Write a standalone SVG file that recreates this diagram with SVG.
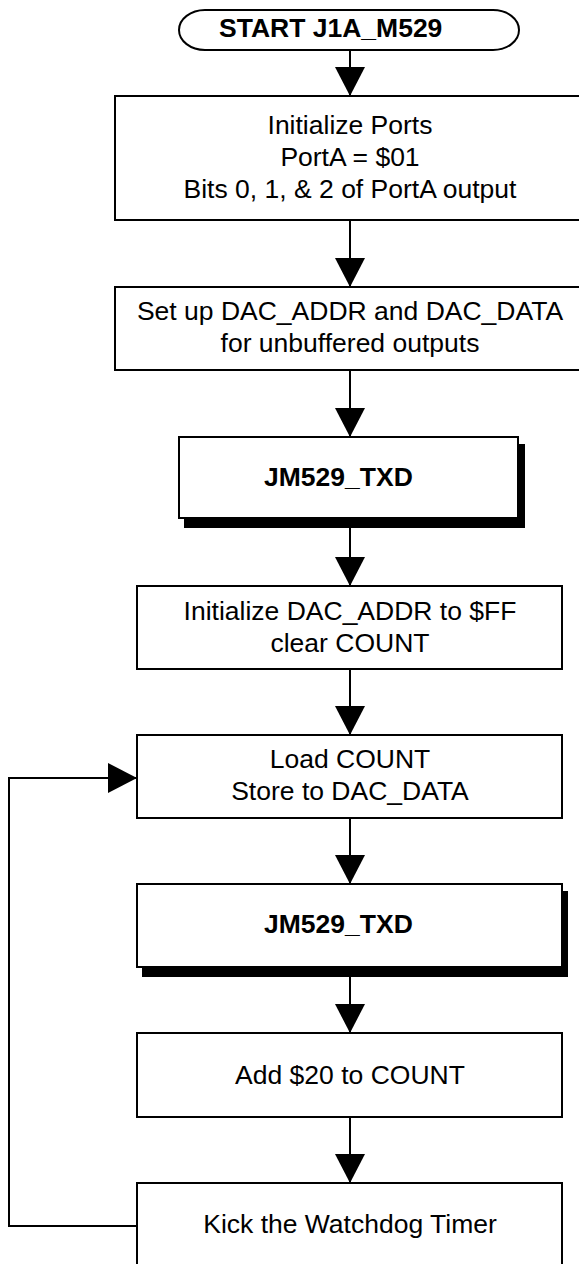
<svg xmlns="http://www.w3.org/2000/svg" width="579" height="1264" viewBox="0 0 579 1264">
  <style>
    .box { fill: #ffffff; stroke: #000000; stroke-width: 2; }
    .shadow { fill: #000000; stroke: none; }
    .txt { font-family: "Liberation Sans", Arial, sans-serif; font-size: 26.5px; fill: #000000; text-anchor: middle; }
    .bold { font-family: "Liberation Sans", Arial, sans-serif; font-size: 26.5px; font-weight: bold; fill: #000000; }
    .wire { fill: none; stroke: #000000; stroke-width: 2; marker-end: url(#head); }
  </style>
  <defs>
    <marker id="head" markerUnits="userSpaceOnUse" markerWidth="29" markerHeight="30" viewBox="0 0 29 30" refX="29" refY="15" orient="auto">
      <path d="M0,0 L29,15 L0,30 Z" fill="#000000"/>
    </marker>
  </defs>
  <rect width="579" height="1264" fill="#ffffff"/>

  <g id="start">
    <path class="box" d="M205,10 H493 A26,20 0 0 1 493,50 H205 A26,20 0 0 1 205,10 Z"/>
    <text class="bold" x="219" y="37">START J1A_M529</text>
  </g>

  <g id="init-ports">
    <rect class="box" x="115" y="96" width="520" height="124"/>
    <text class="txt" x="350" y="134">Initialize Ports</text>
    <text class="txt" x="350" y="166">PortA = $01</text>
    <text class="txt" x="350" y="198">Bits 0, 1, &amp; 2 of PortA output</text>
  </g>

  <g id="setup-dac">
    <rect class="box" x="115" y="287" width="520" height="83"/>
    <text class="txt" x="350" y="320">Set up DAC_ADDR and DAC_DATA</text>
    <text class="txt" x="350" y="352">for unbuffered outputs</text>
  </g>

  <g id="txd-1">
    <rect class="shadow" x="184" y="444" width="341" height="84"/>
    <rect class="box" x="179" y="437" width="339" height="81"/>
    <text class="bold" x="264" y="486">JM529_TXD</text>
  </g>

  <g id="init-addr">
    <rect class="box" x="137" y="586" width="425" height="83"/>
    <text class="txt" x="350" y="620">Initialize DAC_ADDR to $FF</text>
    <text class="txt" x="350" y="652">clear COUNT</text>
  </g>

  <g id="load-count">
    <rect class="box" x="137" y="735" width="425" height="83"/>
    <text class="txt" x="350" y="768">Load COUNT</text>
    <text class="txt" x="350" y="800">Store to DAC_DATA</text>
  </g>

  <g id="txd-2">
    <rect class="shadow" x="142" y="891" width="426" height="86"/>
    <rect class="box" x="137" y="884" width="425" height="83"/>
    <text class="bold" x="264" y="933">JM529_TXD</text>
  </g>

  <g id="add-count">
    <rect class="box" x="137" y="1033" width="425" height="84"/>
    <text class="txt" x="350" y="1084">Add $20 to COUNT</text>
  </g>

  <g id="kick-watchdog">
    <rect class="box" x="137" y="1183" width="425" height="83"/>
    <text class="txt" x="350" y="1233">Kick the Watchdog Timer</text>
  </g>

  <g id="connectors">
    <path class="wire" d="M350,50 V96"/>
    <path class="wire" d="M350,220 V287"/>
    <path class="wire" d="M350,370 V437"/>
    <path class="wire" d="M350,528 V586"/>
    <path class="wire" d="M350,669 V735"/>
    <path class="wire" d="M350,818 V884"/>
    <path class="wire" d="M350,977 V1033"/>
    <path class="wire" d="M350,1117 V1183"/>
    <path class="wire" d="M137,1226 H9 V778 H137"/>
  </g>
</svg>
